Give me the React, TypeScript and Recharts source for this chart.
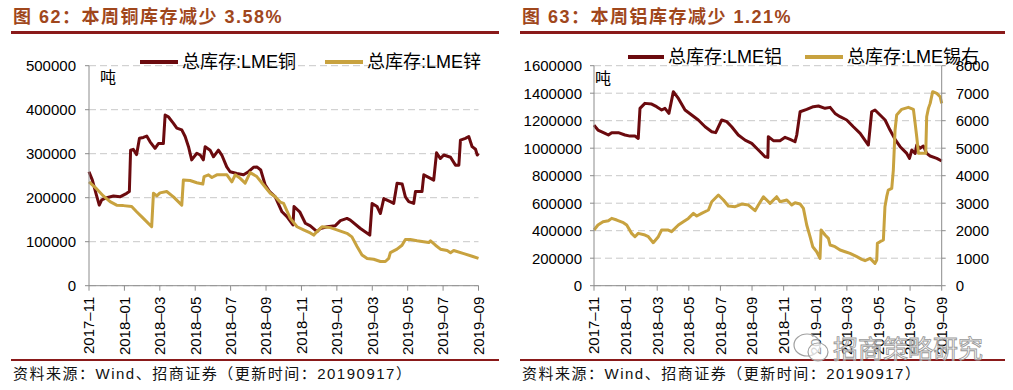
import React from 'react';
import { LineChart, Line, XAxis, YAxis, CartesianGrid } from 'recharts';

// ---------- data ----------
const xTickLabels = ['2017–11', '2018–01', '2018–03', '2018–05', '2018–07', '2018–09', '2018–11', '2019–01', '2019–03', '2019–05', '2019–07', '2019–09'];
const xTicks = xTickLabels.map((_, i) => i * 2); // months since 2017-11

const leftYTicks = [0, 100000, 200000, 300000, 400000, 500000];
const rightLYTicks = [0, 200000, 400000, 600000, 800000, 1000000, 1200000, 1400000, 1600000];
const rightRYTicks = [0, 1000, 2000, 3000, 4000, 5000, 6000, 7000, 8000];

// [month offset, tonnes]
const copper: [number, number][] = [
  [0, 259000], [0.19, 240000], [0.42, 206000], [0.58, 183000], [0.72, 195000], [1.0, 200000], [1.38, 204000], [1.75, 202000],
  [2.13, 210000], [2.28, 214000], [2.35, 308000], [2.5, 310000], [2.69, 298000], [2.85, 335000], [3.07, 337000], [3.26, 340000],
  [3.45, 327000], [3.73, 312000], [3.92, 323000], [4.2, 323000], [4.3, 388000], [4.48, 384000], [4.77, 369000], [4.96, 358000],
  [5.24, 354000], [5.43, 339000], [5.62, 316000], [5.8, 286000], [6.09, 301000], [6.28, 297000], [6.46, 286000], [6.56, 316000],
  [6.84, 308000], [7.03, 293000], [7.31, 308000], [7.5, 297000], [7.78, 270000], [7.97, 259000], [8.35, 255000], [8.73, 252000],
  [9.01, 259000], [9.29, 269000], [9.48, 270000], [9.7, 263000], [9.95, 229000], [10.2, 214000], [10.52, 202000], [10.9, 168000],
  [11.18, 157000], [11.52, 138000], [11.58, 180000], [11.9, 168000], [12.22, 142000], [12.5, 136000], [12.88, 123000],
  [13.07, 130000], [13.45, 134000], [13.9, 136000], [14.2, 148000], [14.57, 153000], [14.76, 149000], [15.33, 130000],
  [15.86, 115000], [15.99, 187000], [16.27, 180000], [16.46, 164000], [16.65, 198000], [17.02, 191000], [17.21, 187000],
  [17.4, 233000], [17.69, 231000], [17.87, 202000], [18.06, 191000], [18.34, 187000], [18.44, 214000], [18.81, 214000],
  [18.91, 252000], [19.29, 244000], [19.47, 240000], [19.63, 302000], [19.85, 289000], [20.04, 297000], [20.42, 292000],
  [20.7, 274000], [20.89, 274000], [20.98, 331000], [21.26, 335000], [21.45, 339000], [21.64, 316000], [21.83, 310000],
  [21.93, 297000], [22.0, 301000],
];

const zinc: [number, number][] = [
  [0, 236000], [0.41, 221000], [0.81, 204000], [1.19, 191000], [1.56, 183000], [1.94, 182000], [2.41, 180000], [2.69, 168000],
  [3.07, 153000], [3.54, 134000], [3.64, 210000], [3.83, 204000], [4.01, 211000], [4.39, 214000], [4.77, 202000], [5.24, 183000],
  [5.33, 240000], [5.71, 239000], [6.09, 234000], [6.43, 231000], [6.5, 248000], [6.75, 252000], [6.94, 246000], [7.22, 252000],
  [7.79, 252000], [8.07, 236000], [8.26, 252000], [8.54, 244000], [8.82, 233000], [9.1, 257000], [9.48, 248000], [9.86, 229000],
  [10.24, 210000], [10.52, 202000], [10.8, 190000], [10.99, 187000], [11.37, 153000], [11.75, 134000], [12.12, 127000],
  [12.5, 120000], [12.69, 115000], [12.88, 123000], [13.16, 134000], [13.63, 132000], [14.0, 127000], [14.57, 119000],
  [14.85, 111000], [15.14, 89000], [15.42, 70000], [15.71, 62000], [16.08, 60000], [16.46, 55000], [16.74, 55000],
  [16.93, 62000], [17.02, 75000], [17.4, 83000], [17.68, 92000], [17.87, 105000], [18.15, 105000], [18.53, 102000],
  [18.9, 100000], [19.19, 98000], [19.29, 102000], [19.57, 92000], [19.85, 83000], [20.23, 80000], [20.42, 75000],
  [20.6, 80000], [21.17, 73000], [21.64, 67000], [22.0, 62000],
];

const aluminium: [number, number][] = [
  [0, 1168000], [0.25, 1132000], [0.7, 1108000], [0.91, 1096000], [1.12, 1113000], [1.54, 1113000], [1.96, 1096000],
  [2.28, 1088000], [2.59, 1088000], [2.8, 1071000], [2.91, 1290000], [3.22, 1326000], [3.65, 1321000], [3.96, 1302000],
  [4.28, 1278000], [4.49, 1290000], [4.74, 1253000], [5.02, 1411000], [5.34, 1362000], [5.76, 1278000], [6.18, 1241000],
  [6.6, 1205000], [7.03, 1156000], [7.45, 1120000], [7.7, 1113000], [8.08, 1205000], [8.4, 1193000], [8.71, 1156000],
  [9.13, 1096000], [9.56, 1059000], [9.98, 1035000], [10.4, 987000], [10.82, 938000], [11.0, 933000], [11.03, 1084000],
  [11.35, 1055000], [11.77, 1055000], [12.09, 1079000], [12.41, 1064000], [12.72, 1047000], [12.83, 1096000],
  [13.04, 1265000], [13.46, 1282000], [13.88, 1302000], [14.2, 1307000], [14.62, 1290000], [14.94, 1297000],
  [15.25, 1253000], [15.57, 1229000], [15.99, 1205000], [16.41, 1156000], [16.84, 1108000], [17.36, 1023000],
  [17.57, 1265000], [17.78, 1278000], [18.1, 1241000], [18.42, 1205000], [18.73, 1132000], [19.05, 1064000],
  [19.37, 1011000], [19.79, 962000], [19.96, 926000], [20.11, 987000], [20.32, 962000], [20.42, 1023000],
  [20.63, 999000], [20.84, 1016000], [21.05, 962000], [21.27, 943000], [21.69, 926000], [22.0, 907000],
];

const tin: [number, number][] = [
  [0, 2024], [0.25, 2206], [0.57, 2327], [0.91, 2364], [1.12, 2448], [1.44, 2388], [1.86, 2291], [2.07, 2206], [2.38, 1903],
  [2.59, 1782], [2.8, 1903], [3.23, 1842], [3.44, 1782], [3.75, 1564], [4.07, 1782], [4.28, 2024], [4.7, 2024], [4.91, 1964],
  [5.34, 2206], [5.65, 2327], [5.97, 2448], [6.29, 2630], [6.5, 2533], [6.81, 2630], [7.24, 2752], [7.45, 3055], [7.87, 3297],
  [8.19, 3115], [8.5, 2897], [8.93, 2873], [9.35, 2970], [9.77, 2933], [10.19, 2727], [10.4, 2933], [10.72, 3236],
  [11.14, 2994], [11.56, 3236], [11.77, 3055], [12.2, 3115], [12.51, 2933], [12.72, 3018], [13.04, 2970], [13.25, 2812],
  [13.46, 2206], [13.67, 1782], [13.84, 1418], [14.09, 1236], [14.3, 994], [14.37, 2024], [14.62, 1842], [14.83, 1721],
  [14.94, 1479], [15.25, 1418], [15.57, 1297], [15.89, 1236], [16.2, 1176], [16.63, 1055], [16.94, 958], [17.15, 909],
  [17.47, 994], [17.78, 812], [17.89, 933], [17.93, 1539], [18.1, 1600], [18.31, 1661], [18.41, 2873], [18.52, 3236],
  [18.62, 3479], [18.84, 3539], [18.94, 4206], [19.05, 5661], [19.15, 6206], [19.47, 6412], [19.89, 6485], [20.21, 6412],
  [20.32, 5903], [20.42, 5418], [20.53, 4812], [20.84, 4812], [20.99, 4812], [21.05, 6145], [21.16, 6448], [21.27, 6630],
  [21.43, 7055], [21.69, 6994], [21.9, 6873], [22.0, 6630],
];

// ---------- styles ----------
const DARK = '#6B0A0E';
const GOLD = '#C8A23F';
const RULE = '#8A1A1A';
const TITLE = '#A0471C';
const LATIN = '"Liberation Sans", Arial, "Noto Sans CJK SC", sans-serif';
const AXIS = '#8C8C8C';
const GRID = '#C8C8C8';

const toPts = (a: [number, number][]) => a.map(([t, v]) => ({ t, v }));

const XTick = (props: any) => {
  const { x, y, payload } = props;
  const idx = xTicks.indexOf(payload.value);
  const label = idx >= 0 ? xTickLabels[idx] : '';
  return (
    <text x={x} y={y} transform={`rotate(-90, ${x}, ${y})`} textAnchor="end" dy="0.36em"
      fontFamily={LATIN} fontSize={15} fill="#000">{label}</text>
  );
};

const yTickStyle = { fontFamily: LATIN, fontSize: 15, fill: '#000' };

const abs = (s: React.CSSProperties): React.CSSProperties => ({ position: 'absolute', whiteSpace: 'nowrap', ...s });

const LegendItem = ({ x, y, color, text, lineW }: { x: number; y: number; color: string; text: string; lineW: number }) => (
  <>
    <div style={abs({ left: x, top: y - 2, width: lineW, height: 4, background: color })} />
    <div style={abs({ left: x + lineW + 4, top: y - 11, fontFamily: LATIN, fontSize: 18, lineHeight: '22px', color: '#000' })}>{text}</div>
  </>
);

export default function App() {
  const chartH = 390;
  return (
    <div style={{ position: 'absolute', left: 0, top: 0, width: 1013, height: 390, background: '#fff', overflow: 'hidden' }}>
      {/* Titles */}
      <div style={abs({ left: 13, top: 7, fontFamily: LATIN, fontWeight: 'bold', fontSize: 18, lineHeight: '20px', letterSpacing: '1.5px', color: TITLE })}>
        图 62：本周铜库存减少 3.58%
      </div>
      <div style={abs({ left: 522, top: 7, fontFamily: LATIN, fontWeight: 'bold', fontSize: 18, lineHeight: '20px', letterSpacing: '1.5px', color: TITLE })}>
        图 63：本周铝库存减少 1.21%
      </div>
      <div style={abs({ left: 11, top: 31, width: 488, height: 2.5, background: RULE })} />
      <div style={abs({ left: 520, top: 31, width: 485, height: 2.5, background: RULE })} />

      {/* Left chart */}
      <div style={abs({ left: 0, top: 0 })}>
        <LineChart width={500} height={chartH} margin={{ top: 65.7, right: 21.5, bottom: 44.3, left: 9 }}>
          <CartesianGrid vertical={false} stroke={GRID} strokeDasharray="7 4" />
          <XAxis dataKey="t" type="number" domain={[0, 22]} ticks={xTicks} interval={0} height={60}
            stroke={AXIS} tickSize={5} tickMargin={6} tick={<XTick />} />
          <YAxis type="number" domain={[0, 500000]} ticks={leftYTicks} interval={0} width={80}
            stroke={AXIS} tickSize={4} tickMargin={9} tick={yTickStyle} />
          <Line data={toPts(copper)} dataKey="v" stroke={DARK} strokeWidth={3} dot={false} isAnimationActive={false} strokeLinejoin="round" />
          <Line data={toPts(zinc)} dataKey="v" stroke={GOLD} strokeWidth={3} dot={false} isAnimationActive={false} strokeLinejoin="round" />
        </LineChart>
      </div>

      {/* Right chart */}
      <div style={abs({ left: 505, top: 0 })}>
        <LineChart width={508} height={chartH} margin={{ top: 65.7, right: 11.3, bottom: 44.3, left: 9 }}>
          <CartesianGrid vertical={false} stroke={GRID} strokeDasharray="7 4" yAxisId="l" />
          <XAxis dataKey="t" type="number" domain={[0, 22]} ticks={xTicks} interval={0} height={60}
            stroke={AXIS} tickSize={5} tickMargin={6} tick={<XTick />} />
          <YAxis yAxisId="l" type="number" domain={[0, 1600000]} ticks={rightLYTicks} interval={0} width={80}
            stroke={AXIS} tickSize={4} tickMargin={8} tick={yTickStyle} />
          <YAxis yAxisId="r" orientation="right" type="number" domain={[0, 8000]} ticks={rightRYTicks} interval={0} width={60}
            stroke={AXIS} tickSize={4} tickMargin={10} tick={yTickStyle} />
          <Line yAxisId="l" data={toPts(aluminium)} dataKey="v" stroke={DARK} strokeWidth={3} dot={false} isAnimationActive={false} strokeLinejoin="round" />
          <Line yAxisId="r" data={toPts(tin)} dataKey="v" stroke={GOLD} strokeWidth={3} dot={false} isAnimationActive={false} strokeLinejoin="round" />
        </LineChart>
      </div>

      {/* Legends */}
      <LegendItem x={140} y={62} color={DARK} text="总库存:LME铜" lineW={38} />
      <LegendItem x={325} y={62} color={GOLD} text="总库存:LME锌" lineW={38} />
      <LegendItem x={628} y={57} color={DARK} text="总库存:LME铝" lineW={36} />
      <LegendItem x={805} y={57} color={GOLD} text="总库存:LME锡右" lineW={38} />

      {/* Units */}
      <div style={abs({ left: 100, top: 69, fontFamily: LATIN, fontSize: 16, lineHeight: '18px' })}>吨</div>
      <div style={abs({ left: 595, top: 70, fontFamily: LATIN, fontSize: 16, lineHeight: '18px' })}>吨</div>

      {/* Footer */}
      <div style={abs({ left: 11, top: 359, width: 488, height: 2, background: RULE })} />
      <div style={abs({ left: 520, top: 359, width: 485, height: 2, background: RULE })} />
      <div style={abs({ left: 13, top: 365, fontFamily: LATIN, fontSize: 15, lineHeight: '18px', letterSpacing: '1.5px', color: '#111' })}>
        资料来源：Wind、招商证券（更新时间：20190917）
      </div>
      <div style={abs({ left: 522, top: 365, fontFamily: LATIN, fontSize: 15, lineHeight: '18px', letterSpacing: '1.5px', color: '#111' })}>
        资料来源：Wind、招商证券（更新时间：20190917）
      </div>

      {/* Watermark */}
      <svg style={abs({ left: 780, top: 325 })} width={210} height={45}>
        <ellipse cx={27} cy={20} rx={13} ry={11} fill="rgba(255,255,255,0.6)" stroke="#A0A0A0" strokeWidth={1.2} />
        <ellipse cx={38} cy={27} rx={10} ry={9} fill="rgba(255,255,255,0.6)" stroke="#A0A0A0" strokeWidth={1.2} />
        <text x={53} y={33} fontFamily={LATIN} fontSize={25} fill="rgba(255,255,255,0.55)" stroke="#9A9A9A" strokeWidth={0.9}>招商策略研究</text>
      </svg>
    </div>
  );
}
